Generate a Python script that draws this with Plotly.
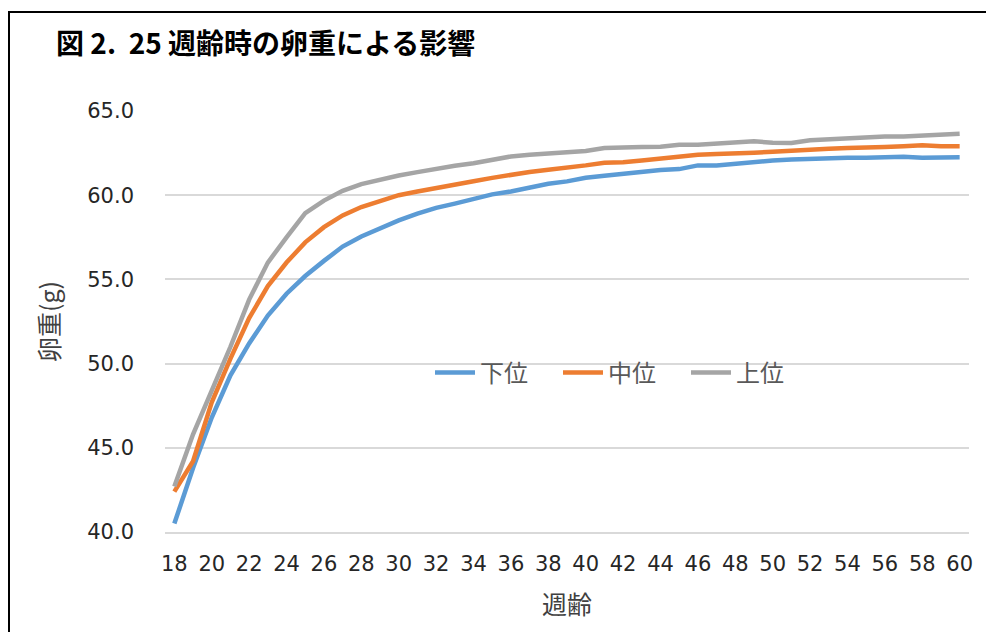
import plotly.graph_objects as go

# 週齢 (weeks of age)
weeks = list(range(18, 61))

# 卵重 (g) by group
lower = [40.5, 43.8, 46.8, 49.3, 51.2, 52.85, 54.15, 55.2, 56.1, 56.95, 57.55, 58.05, 58.5,
         58.9, 59.25, 59.5, 59.75, 60.05, 60.22, 60.45, 60.68, 60.82, 61.03, 61.15, 61.27, 61.4, 61.5,
         61.55, 61.77, 61.77, 61.88, 62.0, 62.06, 62.12, 62.17, 62.2, 62.23, 62.23, 62.25, 62.28, 62.23, 62.25, 62.25]
middle = [42.4, 44.2, 47.7, 50.3, 52.7, 54.6, 56.0, 57.2, 58.1, 58.8, 59.3, 59.68, 60.0,
          60.22, 60.44, 60.65, 60.83, 61.03, 61.23, 61.38, 61.51, 61.62, 61.77, 61.93, 61.96, 62.06, 62.17,
          62.27, 62.4, 62.44, 62.46, 62.52, 62.58, 62.66, 62.7, 62.76, 62.8, 62.86, 62.86, 62.9, 62.96, 62.9, 62.9]
upper = [42.7, 45.8, 48.4, 51.0, 53.8, 56.0, 57.5, 58.93, 59.68, 60.26, 60.66, 60.93, 61.17,
         61.37, 61.57, 61.75, 61.9, 62.1, 62.3, 62.4, 62.46, 62.5, 62.62, 62.8, 62.86, 62.86, 62.88,
         63.0, 63.0, 63.06, 63.12, 63.2, 63.12, 63.1, 63.26, 63.33, 63.41, 63.45, 63.49, 63.49, 63.55, 63.65, 63.65]

series_names = ["下位", "中位", "上位"]
series_colors = ["#5B9BD5", "#ED7D31", "#A5A5A5"]
x_ticks = list(range(18, 61, 2))
y_ticks = [40, 45, 50, 55, 60, 65]

W, H = 986, 632
L, R, T, B = 165, 17, 111, 100
pw, ph = W - L - R, H - T - B


def px_x(x):
    return (x - L) / pw


def px_y(y):
    return (H - B - y) / ph


fig = go.Figure()
for name, vals, col in zip(series_names, [lower, middle, upper], series_colors):
    fig.add_trace(go.Scatter(
        x=weeks, y=vals, name=name, mode="lines",
        line=dict(color=col, width=4.5),
    ))

tick_font = dict(family="DejaVu Sans", size=21, color="#262626")
cjk = "Noto Sans CJK JP"
title_font = dict(family=cjk, size=25, color="#404040")

fig.update_layout(
    width=W, height=H,
    margin=dict(l=L, r=R, t=T, b=B),
    paper_bgcolor="white", plot_bgcolor="white",
    showlegend=True,
    legend=dict(
        orientation="h", x=px_x(622), y=px_y(373), xanchor="center", yanchor="middle",
        font=dict(family=cjk, size=24, color="#595959"),
        bgcolor="rgba(0,0,0,0)", itemwidth=40, tracegroupgap=0,
        entrywidth=73, entrywidthmode="pixels",
    ),
    xaxis=dict(
        range=[17.5, 60.5], tickmode="array", tickvals=x_ticks,
        ticktext=[str(t) for t in x_ticks], tickfont=tick_font,
        showgrid=False, zeroline=False, showline=True, linecolor="#D9D9D9", linewidth=1.5,
        ticks="", ticklabelstandoff=12,
        title=dict(text="週齢", font=title_font, standoff=22),
    ),
    yaxis=dict(
        range=[40, 65], tickmode="array", tickvals=y_ticks,
        ticktext=[f"{v:.1f}" for v in y_ticks], tickfont=tick_font,
        showgrid=True, gridcolor="#D9D9D9", gridwidth=1.5, zeroline=False, showline=False,
        ticks="", ticklabelstandoff=30,
        title=dict(text="卵重(g)", font=title_font, standoff=20),
    ),
    annotations=[dict(
        text="<b>図 2.  25 週齢時の卵重による影響</b>", xref="paper", yref="paper",
        x=px_x(54), y=px_y(42), xanchor="left", yanchor="middle", showarrow=False,
        font=dict(family=cjk, size=28, color="#000000"),
    )],
    shapes=[dict(
        type="rect", xref="paper", yref="paper",
        x0=px_x(9), x1=px_x(W + 20), y0=px_y(H + 20), y1=px_y(12),
        line=dict(color="#000000", width=2), fillcolor="rgba(0,0,0,0)", layer="above",
    )],
)

fig.write_html("out.html")
